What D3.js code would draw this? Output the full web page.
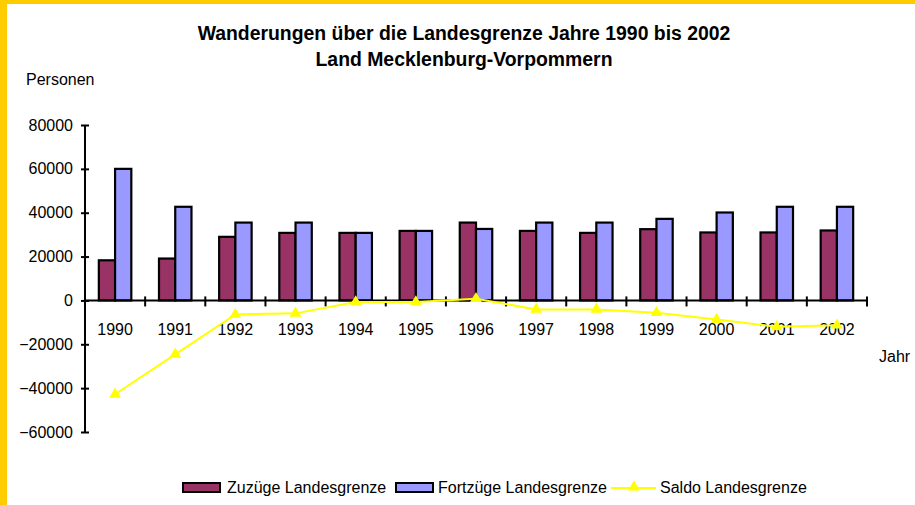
<!DOCTYPE html>
<html lang="de">
<head>
  <meta charset="utf-8">
  <title>Wanderungen über die Landesgrenze</title>
  <script type="text/javascript" src="https://d3js.org/d3.v7.min.js"></script>
  <style type="text/css">
    body { margin: 0; background: #fff; }
    text { font-family: "Liberation Sans", Arial, sans-serif; fill: #000; }
  </style>
</head>
<body>
<script type="text/javascript">

// data
var years = ["1990","1991","1992","1993","1994","1995","1996","1997","1998","1999","2000","2001","2002"];
var zuzuege = [18300, 19100, 29000, 30800, 30800, 31700, 35500, 31700, 30800, 32500, 31000, 31000, 31900];
var fortzuege = [60000, 42700, 35500, 35500, 30800, 31700, 32600, 35500, 35500, 37200, 40100, 42700, 42700];
var saldo = [-42800, -24600, -6400, -5900, -700, -700, 800, -4100, -4100, -5600, -8700, -12000, -11300];
var yTicks = [-60000, -40000, -20000, 0, 20000, 40000, 60000, 80000];
var seriesNames = ["Zuzüge Landesgrenze", "Fortzüge Landesgrenze", "Saldo Landesgrenze"];

var width = 915, height = 505;
var colMaroon = "#993366", colBlue = "#9999ff", colYellow = "#ffff00";

var svg = d3.select("body").append("svg")
    .attr("width", width)
    .attr("height", height);

// gold frame (left + top)
svg.append("rect").attr("x", 0).attr("y", 0).attr("width", 7).attr("height", height).attr("fill", "#ffcc00");
svg.append("rect").attr("x", 0).attr("y", 0).attr("width", width).attr("height", 4).attr("fill", "#ffcc00");

// scales
var x = d3.scaleBand().domain(years).range([85, 867]).padding(0);
var xs = d3.scaleBand().domain([0, 1]).range([x.step() * 0.23, x.step() * 0.77]).padding(0);
var y = d3.scaleLinear().domain([-60000, 80000]).range([432, 125]);

// title
svg.append("text").attr("x", 464).attr("y", 40).attr("text-anchor", "middle")
    .style("font-size", "19.4px").style("font-weight", "bold")
    .text("Wanderungen über die Landesgrenze Jahre 1990 bis 2002");
svg.append("text").attr("x", 464).attr("y", 66).attr("text-anchor", "middle")
    .style("font-size", "19.4px").style("font-weight", "bold")
    .text("Land Mecklenburg-Vorpommern");

svg.append("text").attr("x", 26).attr("y", 85).style("font-size", "16px").text("Personen");
svg.append("text").attr("x", 879).attr("y", 362).style("font-size", "16px").text("Jahr");

// bars
var groups = svg.selectAll(".yr")
    .data(years)
    .enter().append("g")
    .attr("transform", function(d) { return "translate(" + x(d) + ",0)"; });

groups.append("rect")
    .attr("x", xs(0))
    .attr("width", xs.bandwidth())
    .attr("y", function(d, i) { return y(zuzuege[i]); })
    .attr("height", function(d, i) { return y(0) - y(zuzuege[i]); })
    .attr("fill", colMaroon).attr("stroke", "#000").attr("stroke-width", 2.2);

groups.append("rect")
    .attr("x", xs(1))
    .attr("width", xs.bandwidth())
    .attr("y", function(d, i) { return y(fortzuege[i]); })
    .attr("height", function(d, i) { return y(0) - y(fortzuege[i]); })
    .attr("fill", colBlue).attr("stroke", "#000").attr("stroke-width", 2.2);

// y axis, ticks crossing the line
var yAxisL = svg.append("g").attr("transform", "translate(85,0)")
    .call(d3.axisLeft(y).tickValues(yTicks).tickSize(4).tickPadding(8).tickFormat(d3.format("d")));
var yAxisR = svg.append("g").attr("transform", "translate(85,0)")
    .call(d3.axisRight(y).tickValues(yTicks).tickSize(4).tickFormat(""));
[yAxisL, yAxisR].forEach(function(a) {
  a.select(".domain").attr("stroke", "#000").attr("stroke-width", 2).attr("d", "M0," + y(80000) + "V" + y(-60000));
  a.selectAll(".tick line").attr("stroke", "#000").attr("stroke-width", 2);
});
yAxisL.selectAll(".tick text").style("font-size", "16px").style("font-family", "Liberation Sans, Arial, sans-serif");

// x axis at zero
svg.append("line").attr("x1", 85).attr("x2", 867).attr("y1", y(0)).attr("y2", y(0))
    .attr("stroke", "#000").attr("stroke-width", 2);
svg.selectAll(".xtick")
    .data(years)
    .enter().append("line")
    .attr("x1", function(d) { return x(d) + x.bandwidth(); })
    .attr("x2", function(d) { return x(d) + x.bandwidth(); })
    .attr("y1", y(0) - 4).attr("y2", y(0) + 6)
    .attr("stroke", "#000").attr("stroke-width", 2);

svg.selectAll(".xlab")
    .data(years)
    .enter().append("text")
    .attr("x", function(d) { return x(d) + x.bandwidth() / 2; })
    .attr("y", 335)
    .attr("text-anchor", "middle")
    .style("font-size", "16px")
    .text(function(d) { return d; });

// saldo line
var line = d3.line()
    .x(function(d, i) { return x(years[i]) + x.bandwidth() / 2; })
    .y(function(d) { return y(d); });

svg.append("path").datum(saldo)
    .attr("d", line)
    .attr("fill", "none").attr("stroke", colYellow).attr("stroke-width", 2);

var tri = d3.symbol().type(d3.symbolTriangle).size(60);
svg.selectAll(".mk")
    .data(saldo)
    .enter().append("path")
    .attr("d", tri)
    .attr("transform", function(d, i) { return "translate(" + (x(years[i]) + x.bandwidth() / 2) + "," + y(d) + ")"; })
    .attr("fill", colYellow);

// legend
var lg = svg.append("g");
lg.append("rect").attr("x", 183).attr("y", 483).attr("width", 37).attr("height", 9)
    .attr("fill", colMaroon).attr("stroke", "#000").attr("stroke-width", 2);
lg.append("text").attr("x", 227).attr("y", 493).style("font-size", "16px").text(seriesNames[0]);
lg.append("rect").attr("x", 396).attr("y", 483).attr("width", 37).attr("height", 9)
    .attr("fill", colBlue).attr("stroke", "#000").attr("stroke-width", 2);
lg.append("text").attr("x", 438).attr("y", 493).style("font-size", "16px").text(seriesNames[1]);
lg.append("line").attr("x1", 611).attr("x2", 656).attr("y1", 488).attr("y2", 488)
    .attr("stroke", colYellow).attr("stroke-width", 2);
lg.append("path").attr("d", tri).attr("transform", "translate(634,487)").attr("fill", colYellow);
lg.append("text").attr("x", 660).attr("y", 493).style("font-size", "16px").text(seriesNames[2]);

</script>
</body>
</html>
